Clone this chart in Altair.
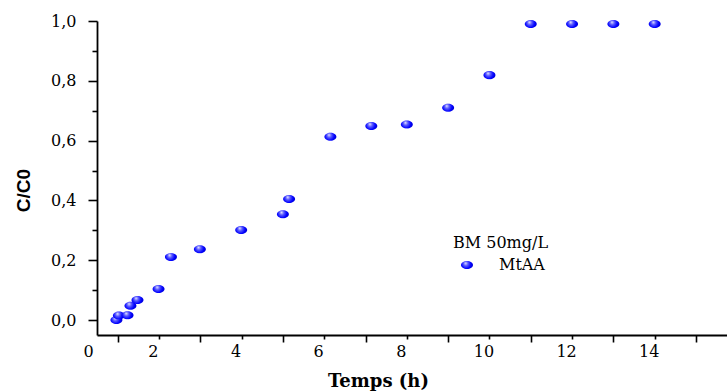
import altair as alt
import pandas as pd

# Data
temps_h = [0.97, 1.03, 1.24, 1.31, 1.48, 1.99, 2.29, 2.99, 3.99, 5.0, 5.15,
           6.15, 7.14, 8.0, 9.0, 10.0, 11.0, 12.0, 13.0, 14.0]
c_c0 = [0.0, 0.015, 0.016, 0.048, 0.067, 0.104, 0.211, 0.237, 0.301, 0.354, 0.405,
        0.613, 0.649, 0.654, 0.710, 0.819, 0.990, 0.990, 0.990, 0.990]
series_name = "MtAA"
legend_title = "BM 50mg/L"
x_tick_values = [0.5] + list(range(1, 16))
y_tick_values = [round(i * 0.1, 1) for i in range(11)]

df = pd.DataFrame({"t": temps_h, "c": c_c0, "series": [series_name] * len(temps_h)})

ellipse = "M-1,0A1,0.67,0,1,0,1,0A1,0.67,0,1,0,-1,0Z"
legend_ellipse = "M-0.43,0A0.43,0.29,0,1,0,0.43,0A0.43,0.29,0,1,0,-0.43,0Z"

gradient = {
    "gradient": "radial",
    "stops": [
        {"offset": 0.0, "color": "#e8e8ff"},
        {"offset": 0.3, "color": "#5a5aff"},
        {"offset": 0.65, "color": "#0000ff"},
        {"offset": 1.0, "color": "#0000c0"},
    ],
    "x1": 0.38, "y1": 0.35, "r1": 0.0,
    "x2": 0.45, "y2": 0.45, "r2": 0.62,
}

serif = "DejaVu Serif"

x_axis = alt.Axis(
    values=x_tick_values,
    labelExpr="datum.value == 0.5 ? '0' : (datum.value % 2 == 0 ? datum.label : '')",
    grid=False,
    domainColor="black", domainWidth=1.8,
    tickColor={"condition": {"test": "datum.value == 0.5", "value": "transparent"}, "value": "black"},
    tickWidth=1.6,
    tickSize={"condition": {"test": "datum.value % 2 == 1", "value": 7}, "value": 4},
    labelOffset={"condition": {"test": "datum.value == 0.5", "value": -9}, "value": -6},
    labelPadding=4,
    labelFont=serif, labelFontSize=16, labelColor="black",
    labelOverlap=False, labelFlush=False,
    title="Temps (h)", titleFont=serif, titleFontSize=18, titleFontWeight="bold",
    titleColor="black", titleX=281, titleY=51, titleBaseline="alphabetic", titleAlign="center",
)

y_axis = alt.Axis(
    values=y_tick_values,
    labelExpr="round(datum.value * 10) % 2 == 0 ? replace(format(datum.value, '.1f'), '.', ',') : ''",
    grid=False,
    domainColor="black", domainWidth=1.8,
    tickColor="black", tickWidth=1.6,
    tickSize={"condition": {"test": "round(datum.value * 10) % 2 == 0", "value": 9}, "value": 5},
    labelPadding=12,
    labelFont=serif, labelFontSize=16, labelColor="black",
    labelOverlap=False, labelFlush=False,
    title="C/C0", titleFont="Liberation Sans", titleFontSize=19, titleFontWeight="bold",
    titleColor="black", titleX=-74, titleY=169, titleAlign="center", titleBaseline="middle",
    titleAngle=270,
)

chart = alt.Chart(df).mark_point(
    filled=True, fill=gradient, shape=ellipse, size=144, strokeWidth=0, opacity=1
).encode(
    x=alt.X("t:Q", scale=alt.Scale(domain=[0.5, 15.75], nice=False, zero=False), axis=x_axis),
    y=alt.Y("c:Q", scale=alt.Scale(domain=[-0.05, 1.0], nice=False, zero=False), axis=y_axis),
    stroke=alt.Stroke(
        "series:N",
        scale=alt.Scale(range=["#0000ff"]),
        legend=alt.Legend(
            title=legend_title, orient="none", legendX=356, legendY=214,
            titleFont=serif, titleFontSize=16, titleFontWeight="normal", titleColor="black",
            titlePadding=0, padding=0,
            labelFont=serif, labelFontSize=16, labelColor="black", labelOffset=18,
            symbolType=legend_ellipse, symbolSize=784, symbolFillColor="#0000ff",
            symbolStrokeWidth=0, symbolOpacity=1,
        ),
    ),
).properties(
    width=630, height=314,
    background="white",
    autosize=alt.AutoSizeParams(type="none"),
    padding={"left": 97, "top": 21, "right": 0, "bottom": 57},
).configure_view(stroke=None, strokeWidth=0)

chart.save("out.html", embed_options={"renderer": "svg", "actions": False})
